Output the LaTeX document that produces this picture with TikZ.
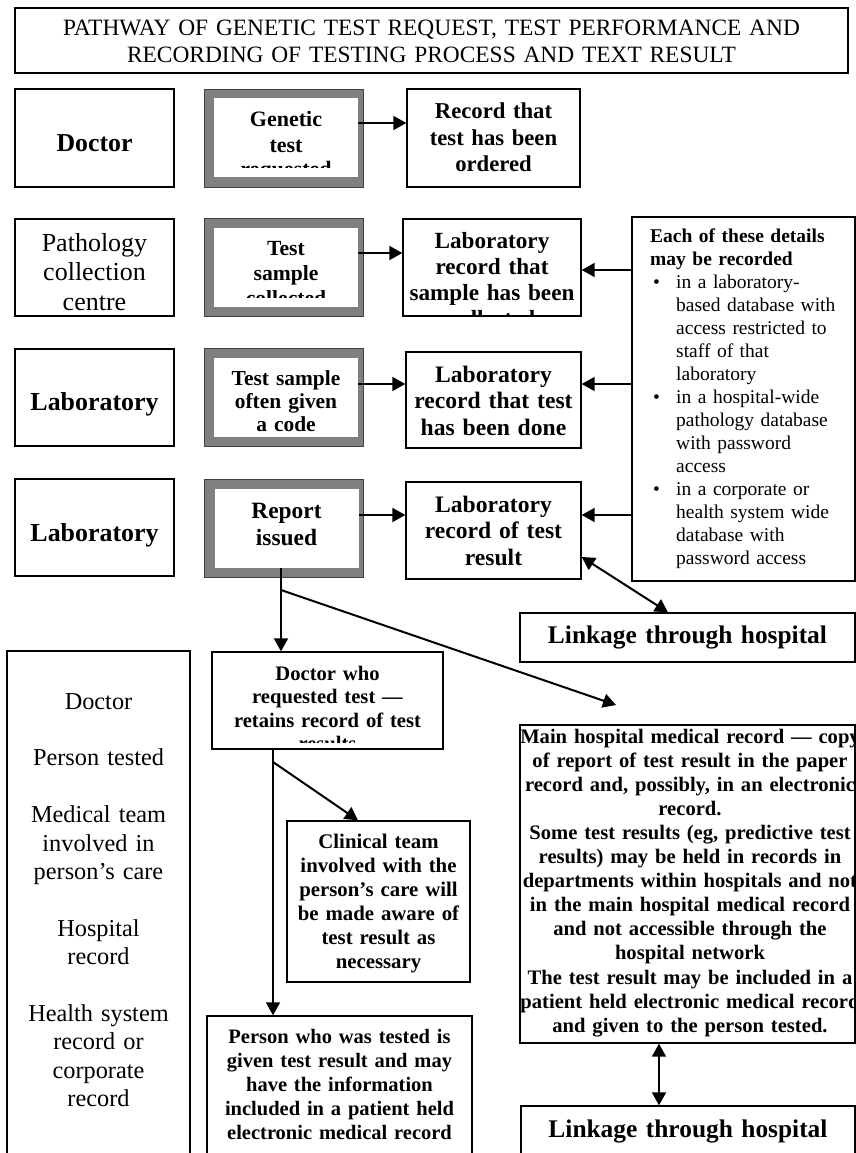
\documentclass[tikz,border=0pt]{standalone}
\usepackage{fontspec}
\setmainfont{Liberation Serif}
\usetikzlibrary{arrows.meta}
\definecolor{framegray}{RGB}{128,128,128}
\newcommand{\fsz}[2]{\fontsize{#1pt}{#2pt}\selectfont}
\tikzset{
  box/.style={rectangle, draw=black, line width=1.4pt, fill=white, inner sep=0pt},
  sized/.style 2 args={minimum width=#1pt, minimum height=#2pt},
  frame/.style={rectangle, draw=black!75, line width=0.8pt, fill=framegray, inner sep=0pt, minimum width=159pt, minimum height=98pt},
  window/.style={rectangle, fill=white, inner sep=0pt, minimum width=144pt, minimum height=79pt},
  txt/.style={inner sep=0pt, align=center, anchor=base, text width=#1pt},
  arrow/.style={-{Triangle[length=13pt, width=14pt]}, line width=2pt},
  twoway/.style={{Triangle[length=13pt, width=14pt]}-{Triangle[length=13pt, width=14pt]}, line width=2pt},
}

\begin{document}
\begin{tikzpicture}[x=1pt, y=-1pt]

  \useasboundingbox (0,0) rectangle (856,1153);
  \clip (0,0) rectangle (856,1153);
  \fill[white] (0,0) rectangle (856,1153);

  % title
  \node[box, sized={833}{65}] (title) at (431.5,40.5) {};
  \node[txt=830, font=\fsz{23.4}{27}] (title-t) at (431.5,36) {PATHWAY OF GENETIC TEST REQUEST, TEST PERFORMANCE AND\\RECORDING OF TESTING PROCESS AND TEXT RESULT};

  % row 1: request
  \node[box, sized={159}{98}] (doc1) at (94.5,138) {};
  \node[txt=150, font=\fsz{25.8}{29}\bfseries] (doc1-t) at (94.5,151) {Doctor};
  \node[frame] (genF) at (283.5,138) {};
  \node[window] (gen) at (286,137.5) {};
  \begin{scope}
    \clip (gen.north west) rectangle (gen.east |- 0,167);
    \node[txt=140, font=\fsz{22}{25}\bfseries] (gen-t) at (gen.center |- 0,127) {Genetic\\test\\requested};
  \end{scope}
  \node[box, sized={173}{98}] (rec1) at (493.5,138) {};
  \node[txt=170, font=\fsz{22.7}{27}\bfseries] (rec1-t) at (493.5,118) {Record that\\test has been\\ordered};

  % row 2: collection
  \node[box, sized={159}{97}] (path) at (94.5,267.5) {};
  \node[txt=155, font=\fsz{26}{29.5}] (path-t) at (94.5,251) {Pathology\\collection\\centre};
  \node[frame] (sampF) at (283.5,267.5) {};
  \node[window] (samp) at (286,267) {};
  \begin{scope}
    \clip (samp.north west) rectangle (samp.east |- 0,297);
    \node[txt=140, font=\fsz{21.6}{25}\bfseries] (samp-t) at (samp.center |- 0,255) {Test\\sample\\collected};
  \end{scope}
  \node[box, sized={178}{97}] (labsamp) at (492,267.5) {};
  \begin{scope}
    \clip (labsamp.north west) rectangle (labsamp.south east);
    \node[txt=175, font=\fsz{23.2}{26}\bfseries] (labsamp-t) at (492,248) {Laboratory\\record that\\sample has been\\collected};
  \end{scope}

  % where the details are kept
  \node[box, sized={223}{364}] (details) at (743.5,399) {};
  \node[inner sep=0pt, anchor=base west, align=left, text width=205pt, font=\fsz{19.5}{23}] (details-t) at (650,242) {%
    {\bfseries Each of these details\\may be recorded}\\
    \hspace*{3pt}\makebox[23pt][l]{\textbullet}in a laboratory-\\
    \hspace*{26pt}based database with\\
    \hspace*{26pt}access restricted to\\
    \hspace*{26pt}staff of that\\
    \hspace*{26pt}laboratory\\
    \hspace*{3pt}\makebox[23pt][l]{\textbullet}in a hospital-wide\\
    \hspace*{26pt}pathology database\\
    \hspace*{26pt}with password\\
    \hspace*{26pt}access\\
    \hspace*{3pt}\makebox[23pt][l]{\textbullet}in a corporate or\\
    \hspace*{26pt}health system wide\\
    \hspace*{26pt}database with\\
    \hspace*{26pt}password access};

  % row 3: testing
  \node[box, sized={159}{97}] (lab3) at (94.5,397.5) {};
  \node[txt=150, font=\fsz{25.9}{29}\bfseries] (lab3-t) at (94.5,410) {Laboratory};
  \node[frame] (codeF) at (283.5,397.5) {};
  \node[window] (code) at (286,397) {};
  \begin{scope}
    \clip (code.north west) rectangle (code.east |- 0,433);
    \node[txt=140, font=\fsz{21.4}{23}\bfseries] (code-t) at (code.center |- 0,385) {Test sample\\often given\\a code};
  \end{scope}
  \node[box, sized={175}{96}] (rec3) at (493.5,400) {};
  \node[txt=172, font=\fsz{23.6}{26.5}\bfseries] (rec3-t) at (493.5,382) {Laboratory\\record that test\\has been done};

  % row 4: report
  \node[box, sized={159}{97}] (lab4) at (94.5,527.5) {};
  \node[txt=150, font=\fsz{25.9}{29}\bfseries] (lab4-t) at (94.5,541) {Laboratory};
  \node[frame] (repF) at (284,528) {};
  \node[window] (rep) at (286.5,528.5) {};
  \node[txt=140, font=\fsz{23.4}{27}\bfseries] (rep-t) at (rep.center |- 0,518) {Report\\issued};
  \node[box, sized={175}{97}] (rec4) at (493.5,530.5) {};
  \node[txt=172, font=\fsz{23.6}{26.5}\bfseries] (rec4-t) at (493.5,512) {Laboratory\\record of test\\result};

  \node[box, sized={335}{49}] (link1) at (687.5,637.5) {};
  \node[txt=330, font=\fsz{25.4}{31}\bfseries] (link1-t) at (687.5,643) {Linkage through hospital};

  % who holds the result
  \node[box, sized={183}{528}] (roles) at (98.5,915) {};
  \node[txt=178, font=\fsz{24.3}{28.4}] (roles-t) at (98.5,709) {Doctor\\[28.4pt]Person tested\\[28.4pt]Medical team\\involved in\\person's care\\[28.4pt]Hospital\\record\\[28.4pt]Health system\\record or\\corporate\\record};

  \node[box, sized={231}{97}] (docwho) at (327.5,700.5) {};
  \begin{scope}
    \clip (docwho.north west) rectangle (docwho.east |- 0,742);
    \node[txt=228, font=\fsz{20.6}{23.5}\bfseries] (docwho-t) at (327.5,680) {Doctor who\\requested test ---\\retains record of test\\results};
  \end{scope}

  \node[box, sized={183}{161}] (clin) at (378.5,901.5) {};
  \node[txt=180, font=\fsz{20.8}{24}\bfseries] (clin-t) at (378.5,848) {Clinical team\\involved with the\\person's care will\\be made aware of\\test result as\\necessary};

  \node[box, sized={265}{164}] (person) at (339.5,1098) {};
  \node[txt=262, font=\fsz{20.5}{24.2}\bfseries] (person-t) at (339.5,1043) {Person who was tested is\\given test result and may\\have the information\\included in a patient held\\electronic medical record};

  \node[box, sized={335}{318}] (main) at (687.5,884) {};
  \begin{scope}
    \clip (main.north west) rectangle (main.south east);
    \node[txt=370, font=\fsz{20.6}{24.1}\bfseries] (main-t) at (690,743) {Main hospital medical record --- copy\\of report of test result in the paper\\record and, possibly, in an electronic\\record.\\Some test results (eg, predictive test\\results) may be held in records in\\departments within hospitals and not\\in the main hospital medical record\\and not accessible through the\\hospital network\\The test result may be included in a\\patient held electronic medical record\\and given to the person tested.};
  \end{scope}

  \node[box, sized={334}{74}] (link2) at (688,1143) {};
  \node[txt=330, font=\fsz{25.4}{31}\bfseries] (link2-t) at (688,1137) {Linkage through hospital};

  % connectors
  \coordinate (fork1) at (281,590);
  \coordinate (mainin) at (616,705);
  \coordinate (fork2) at (273,762);

  \draw[arrow] (gen.east |- 0,123) -- (rec1.west |- 0,123);
  \draw[arrow] (samp.east |- 0,253) -- (labsamp.west |- 0,253);
  \draw[arrow] (code.east |- 0,384) -- (rec3.west |- 0,384);
  \draw[arrow] (rep.east |- 0,515) -- (rec4.west |- 0,515);
  \draw[arrow] (details.west |- 0,270) -- (labsamp.east |- 0,270);
  \draw[arrow] (details.west |- 0,384) -- (rec3.east |- 0,384);
  \draw[arrow] (details.west |- 0,515) -- (rec4.east |- 0,515);
  \draw[twoway] (rec4.east |- 0,557) -- (link1.north -| 668,0);
  \draw[arrow] (rep.south -| 281,0) -- (docwho.north -| 281,0);
  \draw[arrow] (fork1) -- (mainin);
  \draw[arrow] (docwho.south -| 273,0) -- (person.north -| 273,0);
  \draw[arrow] (fork2) -- (clin.north -| 358,0);
  \draw[twoway] (main.south -| 659,0) -- (link2.north -| 659,0);

\end{tikzpicture}
\end{document}
